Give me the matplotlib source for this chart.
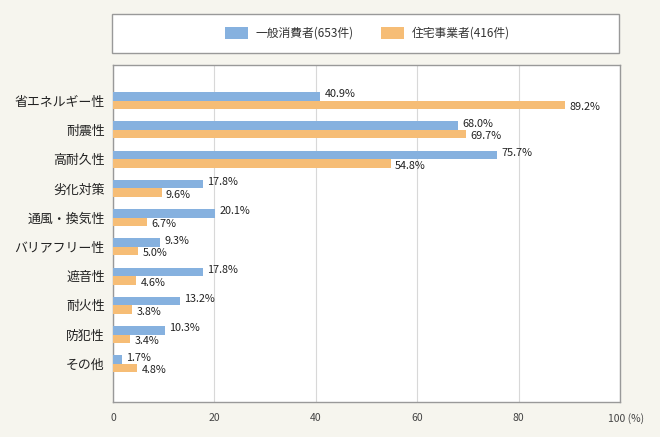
import matplotlib
matplotlib.use("Agg")
import matplotlib.pyplot as plt
from matplotlib.patches import Rectangle
import numpy as np

plt.rcParams['font.family'] = ['Noto Sans CJK JP', 'DejaVu Sans']

categories = ["省エネルギー性", "耐震性", "高耐久性", "劣化対策", "通風・換気性",
              "バリアフリー性", "遮音性", "耐火性", "防犯性", "その他"]
consumers = [40.9, 68.0, 75.7, 17.8, 20.1, 9.3, 17.8, 13.2, 10.3, 1.7]
builders = [89.2, 69.7, 54.8, 9.6, 6.7, 5.0, 4.6, 3.8, 3.4, 4.8]
series_names = ["一般消費者(653件)", "住宅事業者(416件)"]
xticks = [0, 20, 40, 60, 80, 100]

blue = "#86b1df"
orange = "#f6bd76"
bg = "#f6f5ee"
W, H = 660, 437

fig = plt.figure(figsize=(6.6, 4.37), dpi=100, facecolor=bg)

# legend box
fig.patches.append(Rectangle((112 / W, 1 - 53 / H), 507 / W, 39 / H,
                             transform=fig.transFigure, facecolor="white",
                             edgecolor="#999999", linewidth=1))
for px, col, name in [(225, blue, series_names[0]), (381, orange, series_names[1])]:
    fig.patches.append(Rectangle((px / W, 1 - 39 / H), 23 / W, 12 / H,
                                 transform=fig.transFigure, facecolor=col,
                                 edgecolor="none"))
    fig.text((px + 31) / W, 1 - 33.5 / H, name, fontsize=8.5, color="#333333",
             va="center", ha="left")

ax = fig.add_axes([113 / W, 35 / H, 507 / W, 337 / H])
ax.set_facecolor("white")

y = np.arange(len(categories))
h = 0.29
ax.barh(y - h / 2, consumers, height=h, color=blue, zorder=3)
ax.barh(y + h / 2, builders, height=h, color=orange, zorder=3)

for yi, v in zip(y, consumers):
    ax.annotate(f"{v:.1f}%", (v, yi - h / 2), xytext=(3, 1.5),
                textcoords="offset points", fontsize=7.8, color="#222222",
                ha="left", va="center")
for yi, v in zip(y, builders):
    ax.annotate(f"{v:.1f}%", (v, yi + h / 2), xytext=(3, -1.5),
                textcoords="offset points", fontsize=7.8, color="#222222",
                ha="left", va="center")

ax.set_xlim(0, 100)
ax.set_ylim(len(categories) - 1 + 1.3, -1.22)
ax.set_yticks(y)
ax.set_yticklabels(categories, fontsize=9.3, color="#222222")
ax.set_xticks(xticks)
ax.set_xticklabels([str(t) for t in xticks[:-1]] + [""], fontsize=7.5, color="#444444")
ax.annotate("100 (%)", xy=(1, 0), xycoords="axes fraction", xytext=(-9, -8),
            textcoords="offset points", fontsize=7.5, color="#444444",
            ha="left", va="top")
ax.tick_params(axis="both", length=0)
ax.tick_params(axis="x", pad=8)
ax.tick_params(axis="y", pad=6)
ax.grid(axis="x", color="#d8d8d8", linewidth=0.8, zorder=0)
for s in ax.spines.values():
    s.set_color("#999999")
    s.set_linewidth(1)

fig.savefig("out.png", dpi=100, facecolor=bg)
